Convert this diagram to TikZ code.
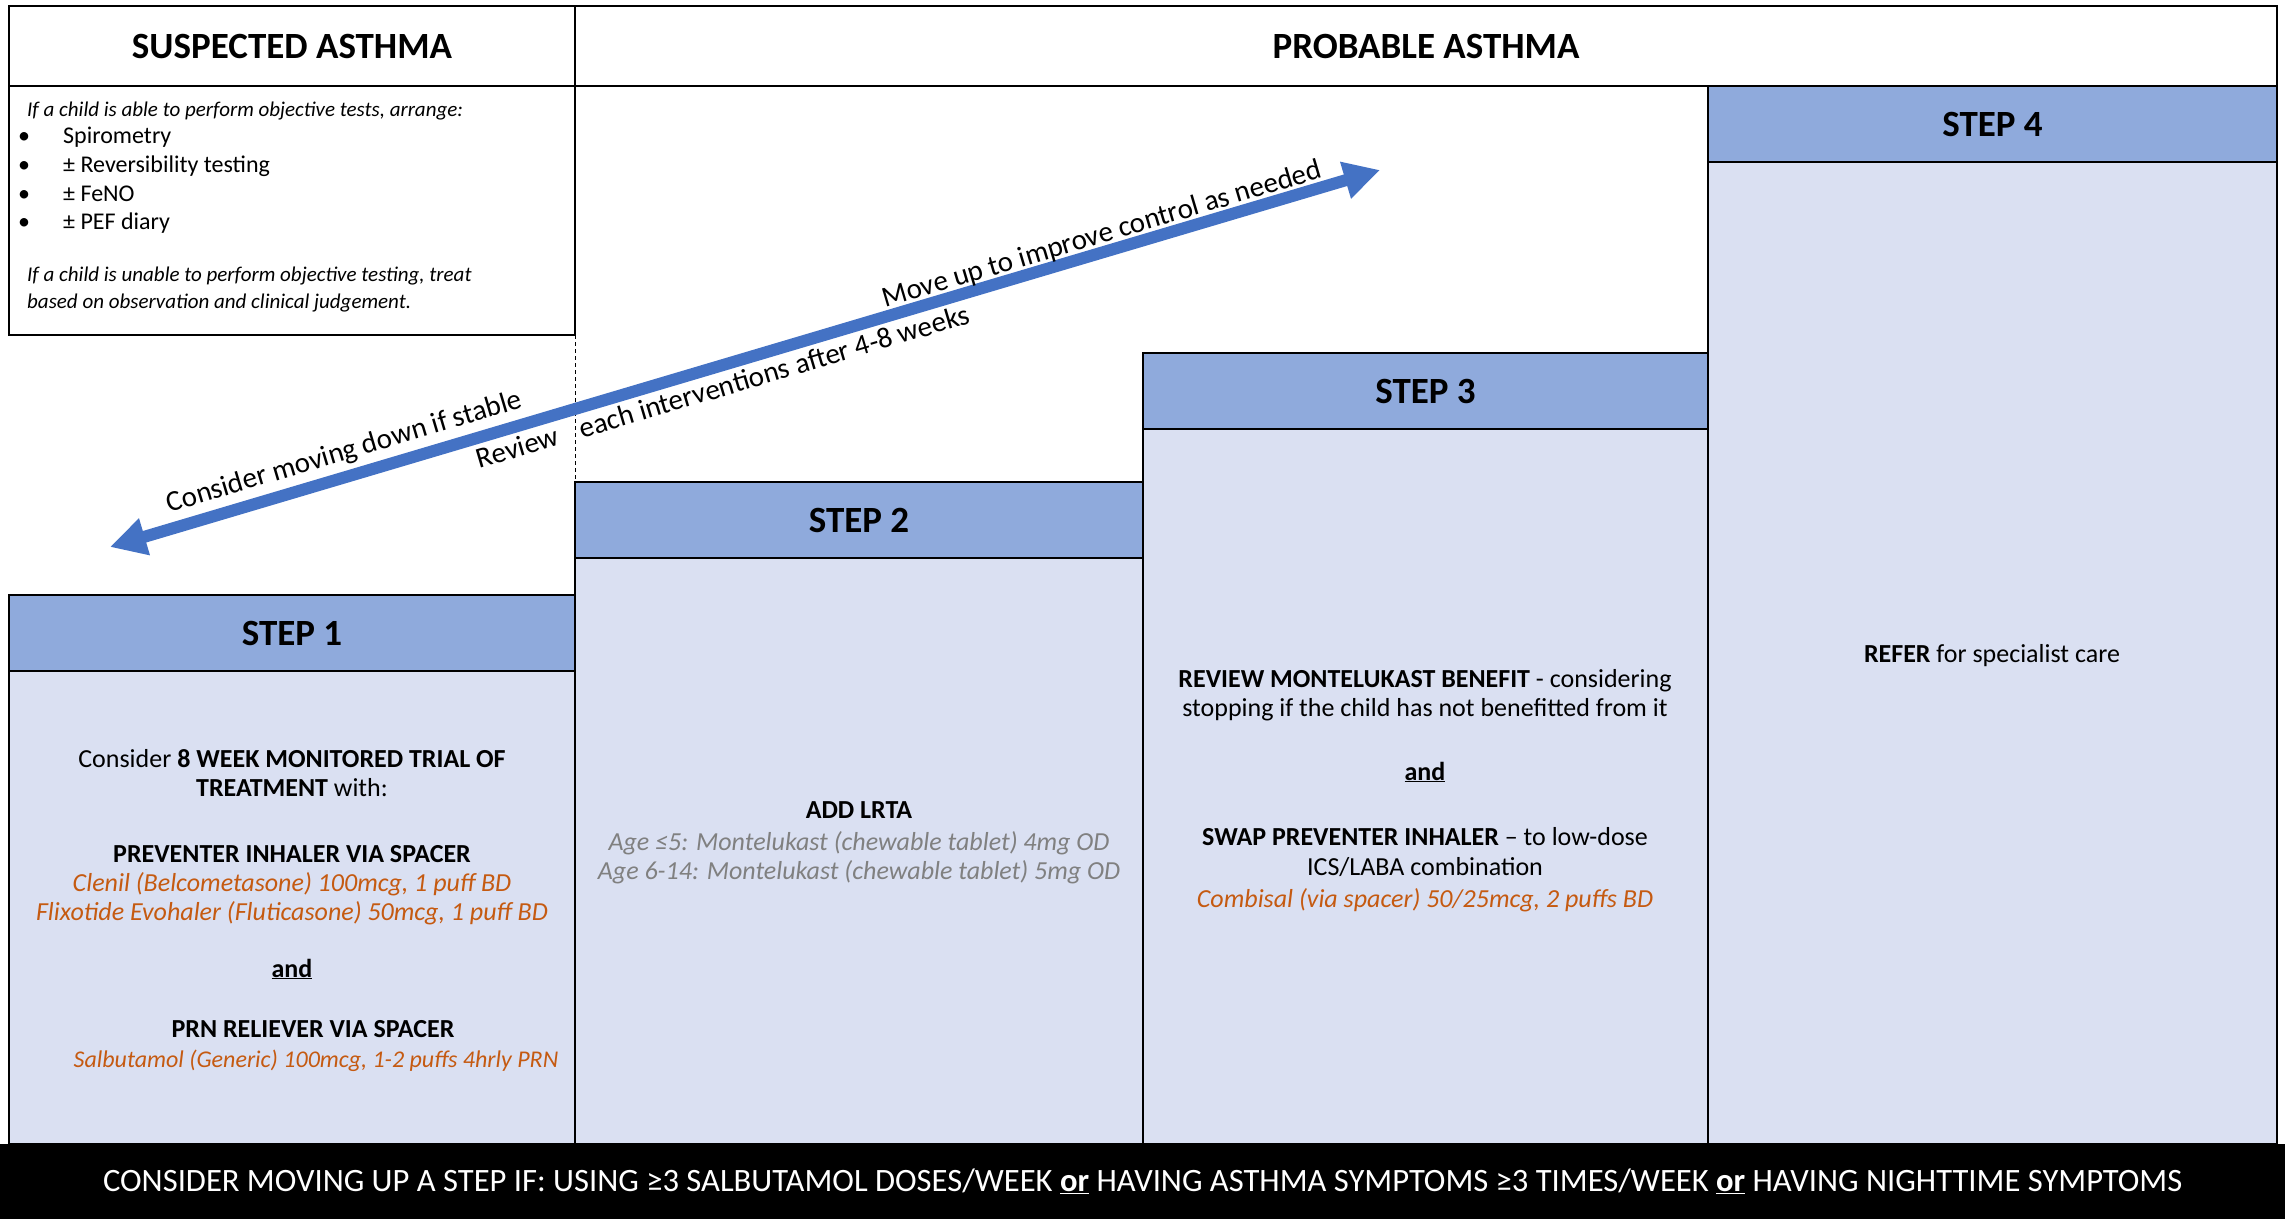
\documentclass[tikz,border=0pt]{standalone}
\usepackage{fontspec}
\setmainfont{Carlito}
\usetikzlibrary{arrows.meta}
\definecolor{hdrblue}{HTML}{8FAADC}
\definecolor{bodyblue}{HTML}{DAE0F2}
\definecolor{arrowblue}{HTML}{4472C4}
\definecolor{drugorange}{HTML}{C55A11}
\definecolor{dosegrey}{HTML}{808080}
\newcommand{\hdrfont}{\fontsize{37}{44}\selectfont\bfseries}
\newcommand{\bodyfont}{\fontsize{26}{30}\selectfont}
\newcommand{\smallit}{\fontsize{21}{24}\selectfont\itshape}
\newcommand{\listfont}{\fontsize{24}{28}\selectfont}
\newcommand{\arrowfont}{\fontsize{29}{33}\selectfont}
\newcommand{\barfont}{\fontsize{32.6}{38}\selectfont}
\begin{document}
\begin{tikzpicture}[x=1pt,y=-1pt,
  cell/.style={draw=black, line width=2.5pt, anchor=north west, inner sep=0pt, outer sep=0pt},
  hdrcell/.style={cell, fill=hdrblue, font=\hdrfont, minimum height=76},
  bodycell/.style={cell, fill=bodyblue},
  ln/.style={anchor=base, inner sep=0pt, font=\bodyfont},
  drug/.style={ln, text=drugorange, font=\bodyfont\itshape},
  dose/.style={ln, text=dosegrey, font=\bodyfont\itshape},
  lst/.style={anchor=base west, inner sep=0pt, font=\listfont},
  bul/.style={anchor=base, inner sep=0pt, font=\listfont},
  itl/.style={anchor=base west, inner sep=0pt, font=\smallit},
  alongtxt/.style={sloped, inner sep=0pt, font=\arrowfont, text=black}]
\useasboundingbox (0,0) rectangle (2285,1219);

% step bodies
\node[bodycell, minimum width=566, minimum height=474] (s1body) at (9,670) {};
\node[bodycell, minimum width=568, minimum height=586] (s2body) at (575,558) {};
\node[bodycell, minimum width=565, minimum height=716] (s3body) at (1143,428) {};
\node[bodycell, minimum width=569, minimum height=982] (s4body) at (1708,162) {};

% step headers
\node[hdrcell, minimum width=566] (s1head) at (9,595) {STEP 1};
\node[hdrcell, minimum width=568] (s2head) at (575,482) {STEP 2};
\node[hdrcell, minimum width=565] (s3head) at (1143,353) {STEP 3};
\node[hdrcell, minimum width=569] (s4head) at (1708,86) {STEP 4};

% top headers
\node[cell, fill=white, font=\hdrfont, minimum width=566, minimum height=80] (susp) at (9,6) {SUSPECTED ASTHMA};
\node[cell, fill=white, font=\hdrfont, minimum width=1702, minimum height=80] (prob) at (575,6) {PROBABLE ASTHMA};
\node[cell, fill=white, minimum width=566, minimum height=249] (tests) at (9,86) {};

% tests text
\node[itl] (t1) at (27,116) {If a child is able to perform objective tests, arrange:};
\node[bul] (b1) at (24,143) {•};
\node[lst] (i1) at (63,143) {Spirometry};
\node[bul] (b2) at (24,172) {•};
\node[lst] (i2) at (63,172) {± Reversibility testing};
\node[bul] (b3) at (24,201) {•};
\node[lst] (i3) at (63,201) {± FeNO};
\node[bul] (b4) at (24,229) {•};
\node[lst] (i4) at (63,229) {± PEF diary};
\node[itl] (t2) at (27,281) {If a child is unable to perform objective testing, treat};
\node[itl] (t3) at (27,308) {based on observation and clinical judgement.};

% dashed divider
\draw[line width=1pt, dash pattern=on 4pt off 3pt] (tests.south east) -- (s2head.north west);

% step 1 text
\node[ln] (s1l1) at (292,767) {Consider \textbf{8 WEEK MONITORED TRIAL OF}};
\node[ln] (s1l2) at (292,796) {\textbf{TREATMENT} with:};
\node[ln] (s1l3) at (292,862) {\textbf{PREVENTER INHALER VIA SPACER}};
\node[drug] (s1l4) at (292,891) {Clenil (Belcometasone) 100mcg, 1 puff BD};
\node[drug] (s1l5) at (292,920) {Flixotide Evohaler (Fluticasone) 50mcg, 1 puff BD};
\node[ln] (s1l6) at (292,977) {\textbf{\underline{and}}};
\node[ln] (s1l7) at (313,1037) {\textbf{PRN RELIEVER VIA SPACER}};
\node[drug, font=\fontsize{24}{28}\selectfont\itshape] (s1l8) at (316,1067) {Salbutamol (Generic) 100mcg, 1-2 puffs 4hrly PRN};

% step 2 text
\node[ln] (s2l1) at (859,818) {\textbf{ADD LRTA}};
\node[dose] (s2l2) at (859,850) {Age ≤5: Montelukast (chewable tablet) 4mg OD};
\node[dose] (s2l3) at (859,879) {Age 6-14: Montelukast (chewable tablet) 5mg OD};

% step 3 text
\node[ln] (s3l1) at (1425,687) {\textbf{REVIEW MONTELUKAST BENEFIT} - considering};
\node[ln] (s3l2) at (1425,716) {stopping if the child has not benefitted from it};
\node[ln] (s3l3) at (1425,780) {\textbf{\underline{and}}};
\node[ln] (s3l4) at (1425,845) {\textbf{SWAP PREVENTER INHALER} – to low-dose};
\node[ln] (s3l5) at (1425,875) {ICS/LABA combination};
\node[drug] (s3l6) at (1425,907) {Combisal (via spacer) 50/25mcg, 2 puffs BD};

% step 4 text
\node[ln] (s4l1) at (1992,662) {\textbf{REFER} for specialist care};

% bottom bar
\node[anchor=north west, fill=black, minimum width=2285, minimum height=75, inner sep=0pt, text=white, font=\barfont] (bar) at (0,1144) {CONSIDER MOVING UP A STEP IF: USING ≥3 SALBUTAMOL DOSES/WEEK \textbf{\underline{or}} HAVING ASTHMA SYMPTOMS ≥3 TIMES/WEEK \textbf{\underline{or}} HAVING NIGHTTIME SYMPTOMS};

% arrow
\coordinate (dn) at (110,547);
\coordinate (upc) at (1380,170);
\draw[arrowblue, line width=12pt, {Triangle[length=36pt,width=36pt]}-{Triangle[length=36pt,width=36pt]}] (dn) -- (upc);
\path (dn) -- (upc)
  node[alongtxt, pos=0.785, above=4pt] (moveup) {Move up to improve control as needed}
  node[alongtxt, pos=0.478, below=10pt] (review) {Review\hspace*{16pt} each interventions after 4-8 weeks}
  node[alongtxt, pos=0.19, above=11pt] (movedown) {Consider moving down if stable};
\end{tikzpicture}
\end{document}
